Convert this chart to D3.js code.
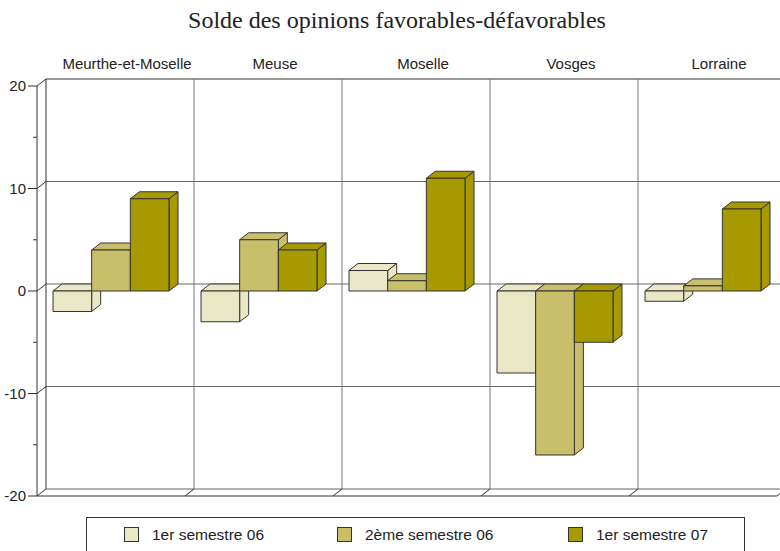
<!DOCTYPE html>
<html><head><meta charset="utf-8">
<script src="https://cdn.jsdelivr.net/npm/d3@7"></script>
<style>body{margin:0;background:#fff}svg{display:block}</style>
</head><body>
<script>
const categories = ["Meurthe-et-Moselle","Meuse","Moselle","Vosges","Lorraine"];
const seriesNames = ["1er semestre 06","2ème semestre 06","1er semestre 07"];
const s1 = [-2, -3, 2, -8, -1];
const s2 = [4, 5, 1, -16, 0.5];
const s3 = [9, 4, 11, -5, 8];
const yTicks = [-20, -10, 0, 10, 20];
const yMinor = [-15, -5, 5, 15];
const colors = ["#E9E7C5", "#C9BF6A", "#A69A00"];
const series = [s1, s2, s3];

const W = 780, H = 551;
const DX = 9, DY = -7;
const FONT = "Liberation Sans, Arial, sans-serif";
const svg = d3.select("body").append("svg").attr("width", W).attr("height", H);

const y = d3.scaleLinear().domain([-20, 20]).range([496, 86]);
const x = d3.scaleBand().domain(categories).range([37, 37 + 148 * 5]);
const xi = d3.scaleBand().domain(d3.range(3)).range([16, 132]);

// title
svg.append("text").attr("x", 397).attr("y", 28).attr("text-anchor", "middle")
  .attr("font-family", "Liberation Serif, Times New Roman, serif").attr("font-size", 24)
  .attr("fill", "#222").text("Solde des opinions favorables-défavorables");

const g = svg.append("g");
const xEnd = W + 20;
// back wall gridlines
yTicks.forEach(t => {
  g.append("line").attr("x1", 37 + DX).attr("x2", xEnd).attr("y1", y(t) + DY).attr("y2", y(t) + DY)
    .attr("stroke", t === 20 ? "#333" : "#666").attr("stroke-width", 1);
  g.append("line").attr("x1", 37).attr("x2", 37 + DX).attr("y1", y(t)).attr("y2", y(t) + DY)
    .attr("stroke", "#333");
});
// back vertical lines
categories.forEach((c, i) => {
  g.append("line").attr("x1", x(c) + DX).attr("x2", x(c) + DX).attr("y1", y(20) + DY).attr("y2", y(-20) + DY)
    .attr("stroke", i === 0 ? "#333" : "#777");
  if (i > 0) g.append("line").attr("x1", x(c)).attr("x2", x(c) + DX).attr("y1", y(-20)).attr("y2", y(-20) + DY)
    .attr("stroke", "#333");
});
// floor front line
g.append("line").attr("x1", 37).attr("x2", x.range()[1]).attr("y1", y(-20)).attr("y2", y(-20)).attr("stroke", "#333");
g.append("line").attr("x1", x.range()[1]).attr("x2", x.range()[1] + DX).attr("y1", y(-20)).attr("y2", y(-20) + DY).attr("stroke", "#333");
// front axis
g.append("line").attr("x1", 37).attr("x2", 37).attr("y1", y(20)).attr("y2", y(-20)).attr("stroke", "#333");
yTicks.forEach(t => {
  g.append("line").attr("x1", 28).attr("x2", 37).attr("y1", y(t)).attr("y2", y(t)).attr("stroke", "#333");
  g.append("text").attr("x", 26).attr("y", y(t) + 5).attr("text-anchor", "end")
    .attr("font-family", FONT).attr("font-size", 15).attr("fill", "#222").text(t);
});
yMinor.forEach(t => {
  g.append("line").attr("x1", 33).attr("x2", 37).attr("y1", y(t)).attr("y2", y(t)).attr("stroke", "#333");
});
// category labels
categories.forEach(c => {
  g.append("text").attr("x", x(c) + x.bandwidth() / 2 + 16).attr("y", 69).attr("text-anchor", "middle")
    .attr("font-family", FONT).attr("font-size", 15).attr("fill", "#222").text(c);
});

// bars
const bars = svg.append("g").attr("stroke", "#333").attr("stroke-width", 1).attr("stroke-linejoin", "round");
categories.forEach((c, ci) => {
  series.forEach((s, si) => {
    const v = s[ci];
    const x0 = x(c) + xi(si), x1 = x0 + xi.bandwidth();
    const yt = y(Math.max(v, 0)), yb = y(Math.min(v, 0));
    const col = colors[si];
    const poly = pts => bars.append("polygon").attr("points", pts.map(p => p.join(",")).join(" ")).attr("fill", col);
    poly([[x1, yt], [x1 + DX, yt + DY], [x1 + DX, yb + DY], [x1, yb]]);
    poly([[x0, yt], [x0 + DX, yt + DY], [x1 + DX, yt + DY], [x1, yt]]);
    poly([[x0, yt], [x1, yt], [x1, yb], [x0, yb]]);
  });
});

// legend
const lg = svg.append("g");
lg.append("rect").attr("x", 86.5).attr("y", 517.5).attr("width", 658).attr("height", 50)
  .attr("fill", "none").attr("stroke", "#333");
const legX = [124, 337, 568];
seriesNames.forEach((n, i) => {
  lg.append("rect").attr("x", legX[i] + 0.5).attr("y", 527.5).attr("width", 14).attr("height", 14)
    .attr("fill", colors[i]).attr("stroke", "#333");
  lg.append("text").attr("x", legX[i] + 28).attr("y", 540).attr("font-family", FONT)
    .attr("font-size", 15.5).attr("fill", "#222").text(n);
});
</script>
</body></html>
